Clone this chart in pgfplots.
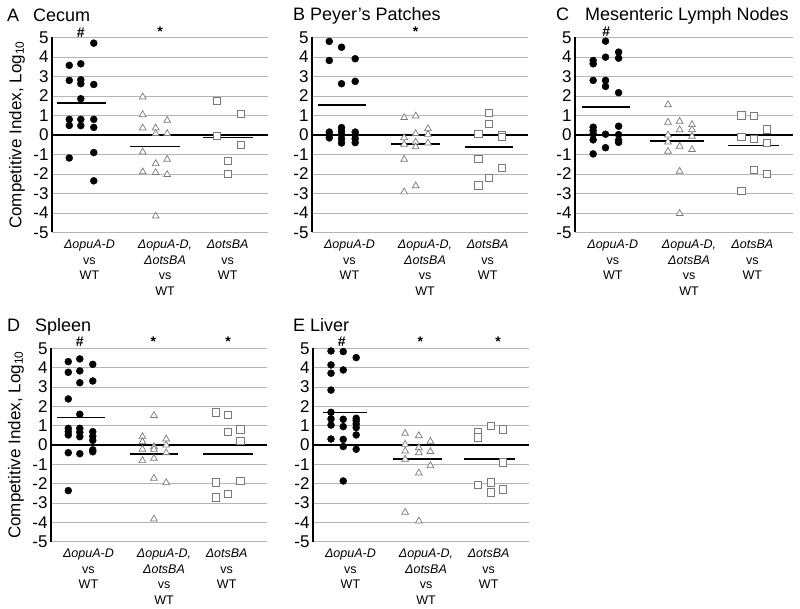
\documentclass[border=0pt]{standalone}
\usepackage{pgfplots}
\pgfplotsset{compat=1.18}
\usepackage{fontspec}
\setmainfont{Liberation Sans}
\definecolor{gridgray}{HTML}{B4B4B4}
\definecolor{mkgray}{HTML}{7A7A7A}
\pgfplotsset{
  panel/.style={
    scale only axis, width=216pt, height=195pt,
    xmin=0, xmax=3, ymin=-5, ymax=5,
    axis lines*=left,
    x axis line style={draw=none},
    y axis line style={line width=1.7pt, black},
    ytick={-5,-4,-3,-2,-1,0,1,2,3,4,5},
    ymajorgrids, grid style={gridgray, line width=0.8pt},
    major tick length=0pt,
    xtick={0.52,1.57,2.44},
    xticklabels={{\textit{ΔopuA-D}\\vs\\WT},{\textit{ΔopuA-D,}\\\textit{ΔotsBA}\\vs\\WT},{\textit{ΔotsBA}\\vs\\WT}},
    xticklabel style={align=center, font=\fontsize{12.5}{15.5}\selectfont, yshift=-4pt},
    yticklabel style={font=\fontsize{17}{17}\selectfont},
    /pgf/number format/assume math mode=true,
    clip=false,
  },
  circ/.style={only marks, mark=*, mark size=3.5pt, mark options={fill=black, draw=black}},
  tri/.style={only marks, mark=triangle*, mark size=3.9pt, mark options={fill=white, draw=mkgray, line width=0.7pt}},
  sq/.style={only marks, mark=square*, mark size=3.6pt, mark options={fill=white, draw=mkgray, line width=0.7pt}},
  meanl/.style={black, line width=1.6pt, no marks},
  zerol/.style={black, line width=1.8pt, no marks},
  ylab/.style={ylabel={Competitive Index, Log\textsubscript{10}}, ylabel style={font=\fontsize{17}{17}\selectfont, at={(axis description cs:-0.162,0.5)}, anchor=center}},
}
\newcommand{\ann}[3]{\node[font=\bfseries\fontsize{14}{14}\selectfont, anchor=base, inner sep=0pt] at (axis cs:#1,#2) {#3};}
\begin{document}
\begin{tikzpicture}
\useasboundingbox (0,0) rectangle (800pt,608pt);
% titles
\begin{scope}[every node/.style={anchor=base west, inner sep=0pt, font=\fontsize{18}{18}\selectfont}]
\node at (7pt,586pt) {A}; \node at (33pt,586pt) {Cecum};
\node at (293pt,587pt) {B}; \node at (310pt,587pt) {Peyer’s Patches};
\node at (556pt,587pt) {C}; \node at (585pt,587pt) {Mesenteric Lymph Nodes};
\node at (7pt,276pt) {D}; \node at (35pt,276pt) {Spleen};
\node at (293pt,276pt) {E}; \node at (310pt,276pt) {Liver};
\end{scope}

% ---------- A Cecum ----------
\begin{axis}[panel, ylab, at={(52pt,375.5pt)}, anchor=south west]
\addplot[zerol] coordinates {(0,0) (3,0)};
\addplot[circ] coordinates {(0.24,3.57)(0.24,2.8)(0.24,0.8)(0.24,0.49)(0.24,-1.18)
 (0.40,3.65)(0.40,2.83)(0.40,2.63)(0.40,1.86)(0.40,0.8)(0.40,0.48)
 (0.58,4.71)(0.58,2.59)(0.58,0.8)(0.58,0.39)(0.58,-0.9)(0.58,-2.35)};
\addplot[meanl] coordinates {(0.07,1.64) (0.75,1.64)};
\addplot[tri] coordinates {(1.26,1.95)(1.26,1.04)(1.26,0.36)(1.26,-0.87)(1.26,-1.89)
 (1.44,0.36)(1.44,0.07)(1.44,-1.47)(1.44,-1.93)(1.44,-4.16)
 (1.60,0.75)(1.60,0.07)(1.60,-1.25)(1.60,-2.03)};
\addplot[meanl] coordinates {(1.08,-0.58) (1.78,-0.58)};
\addplot[sq] coordinates {(2.29,1.77)(2.29,-0.05)(2.44,-1.31)(2.44,-1.98)(2.62,1.09)(2.62,-0.49)};
\addplot[meanl] coordinates {(2.10,-0.12) (2.79,-0.12)};
\ann{0.40}{5.0}{\#}
\ann{1.50}{5.05}{*}
\end{axis}

% ---------- B Peyer's Patches ----------
\begin{axis}[panel, at={(312pt,375.5pt)}, anchor=south west]
\addplot[zerol] coordinates {(0,0) (3,0)};
\addplot[circ] coordinates {(0.24,4.8)(0.24,3.82)(0.24,0.15)(0.24,0)(0.24,-0.15)
 (0.41,4.5)(0.41,2.63)(0.41,0.38)(0.41,0.2)(0.41,0.02)(0.41,-0.2)(0.41,-0.41)
 (0.60,3.91)(0.60,2.75)(0.60,0.15)(0.60,0)(0.60,-0.19)(0.60,-0.39)};
\addplot[meanl] coordinates {(0.08,1.55) (0.75,1.55)};
\addplot[tri] coordinates {(1.28,0.89)(1.28,-0.14)(1.28,-0.48)(1.28,-1.25)(1.28,-2.92)
 (1.44,0.97)(1.44,0.07)(1.44,-0.36)(1.44,-0.61)(1.44,-2.61)
 (1.61,0.32)(1.61,0.03)(1.61,-0.41)};
\addplot[meanl] coordinates {(1.10,-0.46) (1.78,-0.46)};
\addplot[sq] coordinates {(2.31,0.07)(2.31,-1.23)(2.31,-2.58)
 (2.46,1.13)(2.46,0.58)(2.46,-2.18)
 (2.64,0.0)(2.64,-0.1)(2.64,-1.69)};
\addplot[meanl] coordinates {(2.13,-0.63) (2.79,-0.63)};
\ann{1.44}{5.05}{*}
\end{axis}

% ---------- C Mesenteric Lymph Nodes ----------
\begin{axis}[panel, width=218pt, at={(575pt,375.5pt)}, anchor=south west]
\addplot[zerol] coordinates {(0,0) (3,0)};
\addplot[circ] coordinates {(0.25,3.82)(0.25,3.65)(0.25,2.8)(0.25,0.4)(0.25,0.22)(0.25,0.05)(0.25,-0.25)(0.25,-0.97)
 (0.42,4.81)(0.42,3.99)(0.42,2.8)(0.42,2.49)(0.42,0.04)(0.42,-0.65)
 (0.60,4.25)(0.60,3.94)(0.60,2.17)(0.60,0.45)(0.60,0.02)(0.60,-0.27)(0.60,-0.38)};
\addplot[meanl] coordinates {(0.10,1.43) (0.75,1.43)};
\addplot[tri] coordinates {(1.28,1.55)(1.28,0.65)(1.28,0.0)(1.28,-0.36)(1.28,-0.84)
 (1.44,0.7)(1.44,0.27)(1.44,-0.58)(1.44,-1.86)(1.44,-4.03)
 (1.61,0.53)(1.61,0.27)(1.61,-0.07)(1.61,-0.75)};
\addplot[meanl] coordinates {(1.03,-0.31) (1.78,-0.31)};
\addplot[sq] coordinates {(2.29,1.01)(2.29,-0.1)(2.29,-2.88)
 (2.46,0.97)(2.46,-0.19)(2.46,-1.77)
 (2.64,0.29)(2.64,-0.39)(2.64,-1.98)};
\addplot[meanl] coordinates {(2.10,-0.53) (2.81,-0.53)};
\ann{0.43}{5.05}{\#}
\end{axis}

% ---------- D Spleen ----------
\begin{axis}[panel, ylab, height=193.4pt, at={(51pt,66.3pt)}, anchor=south west]
\addplot[zerol] coordinates {(0,0) (3,0)};
\addplot[circ] coordinates {(0.24,4.31)(0.24,3.76)(0.24,2.38)(0.24,0.86)(0.24,0.69)(0.24,0.52)(0.24,-0.4)(0.24,-2.36)
 (0.40,4.45)(0.40,3.83)(0.40,3.22)(0.40,1.59)(0.40,0.86)(0.40,0.66)(0.40,0.43)(0.40,-0.45)
 (0.58,4.17)(0.58,3.31)(0.58,0.69)(0.58,0.45)(0.58,0.24)(0.58,-0.25)(0.58,-0.35)};
\addplot[meanl] coordinates {(0.08,1.43) (0.75,1.43)};
\addplot[tri] coordinates {(1.27,0.43)(1.27,0.17)(1.27,-0.22)(1.27,-0.81)
 (1.43,1.52)(1.43,-0.09)(1.43,-0.22)(1.43,-0.69)(1.43,-1.72)(1.43,-3.83)
 (1.60,0.31)(1.60,0.0)(1.60,-0.40)(1.60,-1.95)};
\addplot[meanl] coordinates {(1.10,-0.48) (1.76,-0.48)};
\addplot[sq] coordinates {(2.29,1.69)(2.29,-1.93)(2.29,-2.71)
 (2.46,1.55)(2.46,0.66)(2.46,-2.53)
 (2.63,0.81)(2.63,0.22)(2.63,-1.86)};
\addplot[meanl] coordinates {(2.11,-0.47) (2.81,-0.47)};
\ann{0.40}{5.07}{\#}
\ann{1.42}{5.1}{*}
\ann{2.46}{5.1}{*}
\end{axis}

% ---------- E Liver ----------
\begin{axis}[panel, height=193.4pt, at={(313pt,66.3pt)}, anchor=south west]
\addplot[zerol] coordinates {(0,0) (3,0)};
\addplot[circ] coordinates {(0.25,4.86)(0.25,4.14)(0.25,3.71)(0.25,2.84)(0.25,1.69)(0.25,1.35)(0.25,1.03)(0.25,0.31)
 (0.42,4.83)(0.42,3.88)(0.42,1.33)(0.42,0.95)(0.42,0.29)(0.42,-0.08)(0.42,-1.86)
 (0.60,4.52)(0.60,1.38)(0.60,1.26)(0.60,1.09)(0.60,0.9)(0.60,0.52)(0.60,-0.22)};
\addplot[meanl] coordinates {(0.14,1.69) (0.75,1.69)};
\addplot[tri] coordinates {(1.28,0.6)(1.28,0.03)(1.28,-0.31)(1.28,-0.74)(1.28,-3.48)
 (1.47,0.48)(1.47,-0.14)(1.47,-0.40)(1.47,-1.45)(1.47,-3.93)
 (1.63,0.19)(1.63,-0.34)(1.63,-1.07)};
\addplot[meanl] coordinates {(1.11,-0.72) (1.79,-0.72)};
\addplot[sq] coordinates {(2.29,0.66)(2.29,0.40)(2.29,-2.07)
 (2.47,0.98)(2.47,-1.93)(2.47,-2.45)
 (2.64,0.81)(2.64,-0.9)(2.64,-2.29)};
\addplot[meanl] coordinates {(2.10,-0.72) (2.81,-0.72)};
\ann{0.40}{5.07}{\#}
\ann{1.49}{5.1}{*}
\ann{2.57}{5.1}{*}
\end{axis}
\end{tikzpicture}
\end{document}
